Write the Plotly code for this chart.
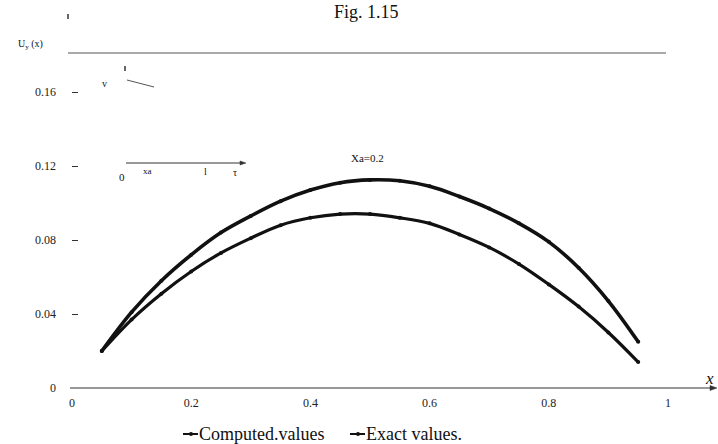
import plotly.graph_objects as go

# ---- data ----
x_vals = [0.05, 0.10, 0.15, 0.20, 0.25, 0.30, 0.35, 0.40, 0.45, 0.50,
          0.55, 0.60, 0.65, 0.70, 0.75, 0.80, 0.85, 0.90, 0.95]
computed_vals = [0.020, 0.041, 0.058, 0.072, 0.084, 0.093, 0.101, 0.107, 0.111, 0.1125,
                 0.112, 0.109, 0.1035, 0.097, 0.089, 0.079, 0.065, 0.047, 0.025]
exact_vals = [0.020, 0.037, 0.051, 0.063, 0.073, 0.081, 0.088, 0.092, 0.094, 0.094,
              0.092, 0.089, 0.083, 0.076, 0.067, 0.056, 0.044, 0.030, 0.014]
x_ticks = [0, 0.2, 0.4, 0.6, 0.8, 1]
x_tick_text = ["0", "0.2", "0.4", "0.6", "0.8", "1"]
y_ticks = [0, 0.04, 0.08, 0.12, 0.16]
y_tick_text = ["0", "0.04", "0.08", "0.12", "0.16"]

W, H = 718, 444
L, R, T, B = 72, 2, 36, 56
PW, PH = W - L - R, H - T - B
XMAX = PW / 596.0
YMAX = PH / 1850.0

SERIF = "Liberation Serif, Times New Roman, serif"
INK = "#111111"


def px(xp):
    return (xp - L) / PW


def py(yp):
    return (H - B - yp) / PH


def arrow_head(xp, yp, size=7, half=3, color="#333333"):
    # right-pointing filled triangle in paper coordinates
    path = "M {} {} L {} {} L {} {} Z".format(
        px(xp), py(yp), px(xp - size), py(yp - half), px(xp - size), py(yp + half))
    return dict(type="path", xref="paper", yref="paper", path=path,
                fillcolor=color, line=dict(color=color, width=0.5))


def label(txt, xp, yp, size, xanchor="center", **extra):
    return dict(xref="paper", yref="paper", x=px(xp), y=py(yp), text=txt,
                xanchor=xanchor, yanchor="middle", showarrow=False,
                font=dict(family=SERIF, size=size, color=INK), **extra)


fig = go.Figure()
fig.add_trace(go.Scatter(x=x_vals, y=computed_vals, mode="lines+markers",
                         name="Computed.values",
                         line=dict(color=INK, width=3.6, shape="spline"),
                         marker=dict(color=INK, size=4), showlegend=False))
fig.add_trace(go.Scatter(x=x_vals, y=exact_vals, mode="lines+markers",
                         name="Exact values.",
                         line=dict(color=INK, width=3.2, shape="spline"),
                         marker=dict(color=INK, size=4), showlegend=False))

shapes = []
annotations = []

# x axis line with arrow
shapes.append(dict(type="line", xref="paper", yref="paper", x0=px(70), x1=px(712),
                   y0=py(388), y1=py(388), line=dict(color="#333333", width=1.2)))
shapes.append(arrow_head(717, 388, size=7, half=2.5))
# top frame line
shapes.append(dict(type="line", xref="paper", yref="paper", x0=px(68), x1=px(666),
                   y0=py(53), y1=py(53), line=dict(color="#555555", width=1.1)))

# inset sketch axis
shapes.append(dict(type="line", xref="paper", yref="paper", x0=px(126), x1=px(241),
                   y0=py(163), y1=py(163), line=dict(color="#333333", width=1)))
shapes.append(arrow_head(246, 163, size=6, half=2))
for txt, xp, yp, sz in [("0", 122, 177, 11), ("xa", 147, 171, 9), ("l", 205, 171, 10),
                        ("τ", 235, 172, 10)]:
    annotations.append(label(txt, xp, yp, sz))

# small "v" with arrow fragment
annotations.append(label("v", 104, 83, 10))
shapes.append(dict(type="line", xref="paper", yref="paper", x0=px(127), x1=px(154),
                   y0=py(80), y1=py(87), line=dict(color="#555555", width=1)))
shapes.append(dict(type="line", xref="paper", yref="paper", x0=px(125), x1=px(125),
                   y0=py(66), y1=py(71), line=dict(color="#333333", width=1.5)))
shapes.append(dict(type="line", xref="paper", yref="paper", x0=px(68), x1=px(68),
                   y0=py(14), y1=py(19), line=dict(color="#333333", width=1.5)))

# label Xa=0.2
annotations.append(label("Xa=0.2", 367, 158, 11))
# axis titles
annotations.append(label("U<sub>y</sub> (x)", 30, 45, 10))
annotations.append(label("<i>x</i>", 709, 378, 17))
# title
annotations.append(label("Fig. 1.15", 366, 12, 18))

# custom legend
for name, x0, tx in [("Computed.values", 183, 197), ("Exact values.", 350, 364)]:
    shapes.append(dict(type="line", xref="paper", yref="paper", x0=px(x0), x1=px(x0 + 15),
                       y0=py(434), y1=py(434), line=dict(color=INK, width=2)))
    shapes.append(dict(type="circle", xref="paper", yref="paper",
                       x0=px(x0 + 6), x1=px(x0 + 10), y0=py(436), y1=py(432),
                       fillcolor=INK, line=dict(color=INK, width=0)))
    annotations.append(label(name, tx, 434, 18, xanchor="left"))

fig.update_layout(
    width=W, height=H,
    margin=dict(l=L, r=R, t=T, b=B),
    paper_bgcolor="white", plot_bgcolor="white",
    shapes=shapes, annotations=annotations,
    xaxis=dict(range=[0, XMAX], tickvals=x_ticks, ticktext=x_tick_text,
               showgrid=False, zeroline=False, showline=False, ticks="",
               ticklabelstandoff=6,
               tickfont=dict(family=SERIF, size=12, color="#222222")),
    yaxis=dict(range=[0, YMAX], tickvals=y_ticks, ticktext=y_tick_text,
               showgrid=False, zeroline=False, showline=False,
               ticks="inside", ticklen=6, tickcolor="#333333", tickwidth=1,
               ticklabelstandoff=15,
               tickfont=dict(family=SERIF, size=12, color="#222222")),
)

fig.write_html("out.html")
